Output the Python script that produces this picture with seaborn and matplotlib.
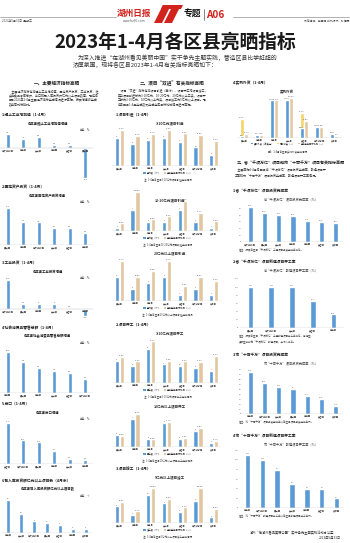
import matplotlib
matplotlib.use('Agg')
import matplotlib.pyplot as plt
import seaborn as sns
import pandas as pd
from matplotlib.patches import Patch, Polygon

sns.set_style('white')
plt.rcParams['font.family'] = ['Noto Sans CJK SC', 'DejaVu Sans']
plt.rcParams['axes.unicode_minus'] = False

BLUE = '#5b9bd5'
TAN = '#e2c6a0'
YELLOW = '#f3d465'
RED = '#d2231c'
GREY = '#c8c8c8'
INK = '#222222'

# ---- 一、主要经济指标 ----
c1_cats = ['南太湖新区', '德清县', '长兴县', '南浔区', '安吉县', '吴兴区']
c1_vals = [7.6, 5.0, 5.8, 1.6, 1.6, -16.2]
c2_cats = ['吴兴区', '南浔区', '南太湖新区', '长兴县', '安吉县', '德清县']
c2_vals = [12.3, 7.8, 7.5, 5.8, 5.8, 3.9]
c3_cats = ['南太湖新区', '吴兴区', '南浔区', '长兴县', '安吉县', '德清县']
c3_vals = [35.4, 6.1, 6.0, 6.0, 1.4, -8.5]
c4_cats = ['南浔区', '吴兴区', '德清县', '长兴县', '安吉县', '南太湖新区']
c4_vals = [13.2, 9.9, 8.1, 7.2, 6.6, 4.4]
c5_cats = ['安吉县', '南太湖新区', '吴兴区', '德清县', '长兴县', '南浔区']
c5_vals = [31.4, 18.1, 16.5, 10.0, 3.7, 3.4]
c6_cats = ['德清县', '长兴县', '南太湖新区', '吴兴区', '安吉县', '南浔区', '度假区']
c6_vals = [17, 10, 6, 5, 4, 2, 2]

# ---- 二、项目"双进" ----
g_cats = ['吴兴区', '南浔区', '德清县', '长兴县', '安吉县', '南太湖新区', '度假区']
g1_num = [15, 12, 14, 15, 13, 10, 6]
g1_pct = [62.5, 52.2, 55.7, 62.5, 56.5, 54.0, 43.9]
g2_num = [1, 7, 3, 3, 7, 3, 1]
g2_pct = [20.0, 100.0, 30.0, 37.5, 77.8, 46.7, 25.0]
g3_num = [4, 2, 3, 4, 1, 2, 1]
g3_pct = [66.7, 40.0, 50.0, 66.7, 25.0, 40.0, 33.3]
g4_num = [13, 10, 20, 11, 10, 9, 7]
g4_pct = [52.0, 43.5, 83.3, 44.0, 43.5, 42.9, 53.8]
g5_num = [3, 7, 2, 6, 2, 4, 1]
g5_pct = [30.0, 87.5, 20.0, 66.7, 25.0, 50.0, 16.7]
g6_num = [6, 3, 10, 7, 4, 8, 2]
g6_pct = [60.0, 33.3, 100.0, 70.0, 44.4, 100.0, 40.0]

# ---- 实到外资 ----
f_cats = ['吴兴区', '南浔区', '德清县', '长兴县', '安吉县', '南太湖新区', '度假区']
f_usd = [560, 960, 11890, 11960, 3050, 3420, 1210]
f_growth = [50.3, 0, 0, 0, 65.8, 0, 0]
f_pct = [10.7, 8.1, 98.2, 104.6, 45.0, 29.0, 5.3]

# ---- 三、省"千项万亿"、市"十百千万" ----
h1_cats = ['南太湖新区', '吴兴区', '长兴县', '德清县', '南浔区', '安吉县', '度假区']
h1_vals = [52.5, 43.9, 40.8, 39.6, 32.1, 30.5, 28.7]
h2_cats = ['吴兴区', '南太湖新区', '长兴县', '安吉县', '德清县']
h2_vals = [100.0, 100.0, 100.0, 66.7, 33.3]
h3_cats = ['德清县', '南太湖新区', '长兴县', '吴兴区', '南浔区', '安吉县', '度假区']
h3_vals = [85.6, 63.2, 55.1, 51.0, 36.7, 30.6, 16.3]
h4_cats = ['德清县', '南太湖新区', '吴兴区', '长兴县', '南浔区', '安吉县', '度假区']
h4_vals = [110, 100, 80, 50, 40, 40, 20]

W, H = 350, 543
fig = plt.figure(figsize=(W / 100, H / 100), dpi=100)
fig.patch.set_facecolor('white')


def box(x0, x1, top, bot):
    return [x0 / W, 1 - bot / H, (x1 - x0) / W, (bot - top) / H]


def txt(x, y, s, size, ha='left', **kw):
    kw.setdefault('color', INK)
    fig.text(x / W, 1 - y / H, s, fontsize=size, ha=ha, va='center', **kw)


def bars(ax):
    return [c for c in ax.containers if len(c) and all(p is not None for p in c)]


def clean(ax):
    sns.despine(ax=ax, left=True, bottom=True, right=True, top=True)
    ax.patch.set_visible(False)
    ax.set_xlabel('')
    ax.set_ylabel('')
    ax.set_xticks([])
    ax.set_yticks([])


def cat_labels(ax, cats, size=1.7):
    for i, c in enumerate(cats):
        ax.annotate(c, (i, 0), xytext=(0, -0.8), textcoords='offset points',
                    ha='center', va='top', fontsize=size, color='#444')


def single(x0, x1, base, top, per, cats, vals, bot=None, width=0.28,
           yticks=None, fmt='{:g}'):
    bot = base if bot is None else bot
    ax = fig.add_axes(box(x0, x1, top, bot))
    sns.barplot(x=cats, y=vals, ax=ax, color=BLUE, saturation=1, width=width, errorbar=None)
    clean(ax)
    ax.set_xlim(-0.5, len(cats) - 0.5)
    ax.set_ylim(-(bot - base) / per, (base - top) / per)
    ax.axhline(0, color=GREY, lw=0.35)
    cat_labels(ax, cats)
    ax.bar_label(bars(ax)[0], labels=[fmt.format(v) for v in vals],
                 fontsize=1.6, padding=0.6, color='#444')
    if yticks is not None:
        ax.set_yticks(yticks)
        ax.tick_params(axis='y', labelsize=1.6, length=0, pad=1.2, labelcolor='#555')
    return ax


def legend(x, y, names, colors, size=1.7, ncol=None):
    handles = [Patch(facecolor=c, edgecolor='none') for c in colors]
    fig.legend(handles, names, loc='center', bbox_to_anchor=(x / W, 1 - y / H),
               ncol=ncol or len(names), fontsize=size, frameon=False,
               handlelength=0.9, handleheight=0.7, handletextpad=0.4,
               columnspacing=1.2, borderpad=0, borderaxespad=0)


def grouped(base, top, per_a, per_b, cats, a, b, names, x0=111.5, x1=221.5):
    ax = fig.add_axes(box(x0, x1, top, base))
    pal = {names[0]: BLUE, names[1]: TAN}
    df_a = pd.DataFrame({'区县': cats, 'v': a, 's': names[0]})
    df_b = pd.DataFrame({'区县': cats, 'v': b, 's': names[1]})
    sns.barplot(df_a, x='区县', y='v', hue='s', hue_order=names, palette=pal, errorbar=None,
                dodge=True, ax=ax, width=0.62, gap=0.12, saturation=1, legend=False)
    ax2 = ax.twinx()
    sns.barplot(df_b, x='区县', y='v', hue='s', hue_order=names, palette=pal, errorbar=None,
                dodge=True, ax=ax2, width=0.62, gap=0.12, saturation=1, legend=False)
    for axx, per in ((ax, per_a), (ax2, per_b)):
        clean(axx)
        axx.set_xlim(-0.5, len(cats) - 0.5)
        axx.set_ylim(0, (base - top) / per)
    ax.axhline(0, color=GREY, lw=0.35)
    cat_labels(ax, cats, 1.6)
    ax.bar_label(bars(ax)[0], labels=[f'{v:g}' for v in a],
                 fontsize=1.5, padding=0.5, color='#444')
    ax2.bar_label(bars(ax2)[0], labels=[f'{v:.1f}%' for v in b],
                  fontsize=1.5, padding=0.5, color='#444')
    return ax, ax2


# ---------------- header ----------------
fig.add_artist(plt.Line2D([0, 116 / W], [1 - 17 / H] * 2, color='#777', lw=0.4))
fig.add_artist(plt.Line2D([233 / W, 1], [1 - 17 / H] * 2, color='#777', lw=0.4))
txt(2, 20.5, '2023年5月31日  星期三', 2.1, color='#444')
txt(349, 20.5, '责任编辑：崔亚楠  版式设计：孙海丽', 2.0, ha='right', color='#444')
txt(134, 13, '湖州日报', 6.2, ha='center', color=RED, fontweight='bold')
txt(134, 21.5, 'www.hz66.com', 2.3, ha='center', color='#555')
for pts in ([(154, 23), (162, 23), (171, 5), (163, 5)],
            [(164, 23), (172, 23), (181, 5), (173, 5)],
            [(163, 5), (183, 5), (181, 9), (161, 9)]):
    fig.add_artist(Polygon([(px / W, 1 - py / H) for px, py in pts],
                           closed=True, transform=fig.transFigure,
                           facecolor=RED, edgecolor='none'))
txt(184, 14.5, '专题', 6.3, color='#111', fontweight='bold')
fig.add_artist(plt.Line2D([203.5 / W] * 2, [1 - 9 / H, 1 - 20 / H], color='#555', lw=0.5))
txt(206, 14.5, 'A06', 7.2, color=RED, fontweight='bold')

# ---------------- title & intro ----------------
txt(175, 42, '2023年1-4月各区县亮晒指标', 13.5, ha='center', fontweight='bold', color='#1a1a1a')
txt(78, 58, '为深入推进“在湖州看见美丽中国”实干争先主题实践，营造区县比学赶超的', 4.2, color='#333')
txt(73, 64.5, '浓厚氛围，现将各区县2023年1-4月有关指标亮晒如下：', 4.2, color='#333')

# ---------------- column 1 ----------------
txt(57, 83, '一、主要经济指标亮晒', 3.3, ha='center', fontweight='bold')
for i, line in enumerate(['    主要经济指标包括规上工业增加值、固定资产投资、工业投资、社',
                          '会消费品零售总额、出口和已入库投资额亿元以上项目数等，现将各',
                          '区县2023年1-4月主要经济指标完成情况进行亮晒，按照增速或完成',
                          '数由高到低排列。']):
    txt(9, 91 + 4.3 * i, line, 2.15, color='#333')

col1 = [
    ('1.规上工业增加值（1-4月）', 115, '各区县规上工业增加值增速', '单位：%',
     dict(base=148, top=128, per=14 / 7.6, bot=182, cats=c1_cats, vals=c1_vals)),
    ('2.固定资产投资（1-4月）', 187, '各区县固定资产投资增速', '单位：%',
     dict(base=245, top=202, per=37 / 12.3, cats=c2_cats, vals=c2_vals)),
    ('3.工业投资（1-4月）', 263, '各区县工业投资增速', '单位：%',
     dict(base=309, top=276, per=29 / 35.4, bot=319, cats=c3_cats, vals=c3_vals)),
    ('4.社会消费品零售总额（1-4月）', 328, '各区县社会消费品零售总额增速', '单位：%',
     dict(base=393, top=347, per=41 / 13.2, cats=c4_cats, vals=c4_vals)),
    ('5.出口（1-4月）', 404, '各区县出口增速', '单位：%',
     dict(base=464, top=419, per=41 / 31.4, cats=c5_cats, vals=c5_vals)),
    ('6.已入库投资额亿元以上项目数（4月末）', 481, '各区县已入库投资额亿元以上项目数', '单位：个',
     dict(base=533, top=495, per=33 / 17, cats=c6_cats, vals=c6_vals)),
]
for head, hy, title, unit, kw in col1:
    txt(2, hy, head, 2.7, fontweight='bold')
    txt(48, hy + 8.5, title, 2.4, ha='center', fontweight='bold')
    txt(80, hy + 15, unit, 1.9, color='#444')
    n = len(kw['cats'])
    x0, x1 = (0, 93) if n == 6 else (2, 92)
    single(x0, x1, width=0.28 if n == 6 else 0.32, **kw)

# ---------------- column 2 ----------------
txt(172, 83, '二、项目“双进”有关指标亮晒', 3.3, ha='center', fontweight='bold')
for i, line in enumerate(['    项目“双进”指标包括项目引进（签约）、项目开工和项目竣工，',
                          '其中项目引进分为3-10亿元、10-20亿元、20亿元以上三类，项目开',
                          '工分为3-10亿元、10亿元以上两类，项目竣工为5亿元以上项目。现',
                          '将各区县1-4月完成数及完成全年目标比例情况进行亮晒。']):
    txt(118, 91 + 4.3 * i, line, 2.15, color='#333')

txt(116, 115, '1.项目引进（1-4月）', 2.7, fontweight='bold')
txt(116, 325, '2.项目开工（1-4月）', 2.7, fontweight='bold')
txt(116, 470, '3.项目竣工（1-4月）', 2.7, fontweight='bold')

col2 = [
    (123, '3-10亿元项目引进', ['签约数（个）', '完成全年目标比例（%）'],
     '注：1-4月各区县3-10亿元项目引进完成情况', 166, 127, 28 / 15, 36 / 62.5, g1_num, g1_pct),
    (200, '10-20亿元项目引进', ['签约数（个）', '完成全年目标比例（%）'],
     '注：1-4月各区县10-20亿元项目引进完成情况', 231, 186, 3.0, 0.39, g2_num, g2_pct),
    (253, '20亿元以上项目引进', ['签约数（个）', '完成全年目标比例（%）'],
     '注：1-4月各区县20亿元以上项目引进完成情况', 301, 256, 6.0, 0.6, g3_num, g3_pct),
    (333, '3-10亿元项目开工', ['开工数（个）', '完成全年目标比例（%）'],
     '注：1-4月各区县3-10亿元项目开工完成情况', 383, 336, 1.7, 0.5, g4_num, g4_pct),
    (406, '10亿元以上项目开工', ['开工数（个）', '完成全年目标比例（%）'],
     '注：1-4月各区县10亿元以上项目开工完成情况', 447, 410, 4.0, 0.38, g5_num, g5_pct),
    (478, '5亿元以上项目竣工', ['竣工数（个）', '完成全年目标比例（%）'],
     '注：1-4月各区县5亿元以上项目竣工完成情况', 523, 484, 2.8, 0.35, g6_num, g6_pct),
]
for ty, title, names, note, base, top, pa, pb, a, b in col2:
    txt(170, ty, title, 2.5, ha='center', fontweight='bold', color='#333')
    grouped(base, top, pa, pb, g_cats, a, b, names)
    legend(168, base + 7, names, [BLUE, TAN])
    txt(168, base + 13.5, note, 1.8, ha='center', color='#444')

# ---------------- column 3 ----------------
txt(233, 83, '4.实到外资（1-4月）', 2.7, fontweight='bold')
txt(287, 92, '实到外资', 2.5, ha='center', fontweight='bold', color='#333')
f_names = ['实到外资（万美元）', '同比增长（%）', '完成全年目标比例（%）']
base, top = 138, 93
ax = fig.add_axes(box(236.5, 341.5, top, base))
pal = {f_names[0]: BLUE, f_names[1]: YELLOW, f_names[2]: TAN}
df_p = pd.concat([pd.DataFrame({'区县': f_cats, 'v': f_growth, 's': f_names[1]}),
                  pd.DataFrame({'区县': f_cats, 'v': f_pct, 's': f_names[2]})])
sns.barplot(df_p, x='区县', y='v', hue='s', hue_order=f_names[1:], palette=pal, errorbar=None,
            dodge=True, ax=ax, width=0.62, gap=0.1, saturation=1, legend=False)
ax2 = ax.twinx()
df_u = pd.DataFrame({'区县': f_cats, 'v': f_usd, 's': f_names[0]})
sns.barplot(df_u, x='区县', y='v', hue='s', hue_order=[f_names[0], f_names[2]], palette=pal,
            dodge=True, errorbar=None, ax=ax2, width=0.62, gap=0.1, saturation=1, legend=False)
for axx, per in ((ax, 40 / 104.6), (ax2, 38 / 11960)):
    clean(axx)
    axx.set_xlim(-0.5, len(f_cats) - 0.5)
    axx.set_ylim(0, (base - top) / per)
ax.axhline(0, color=GREY, lw=0.35)
cat_labels(ax, f_cats, 1.6)
fb = bars(ax)
ax.bar_label(fb[0], labels=[f'{v:.1f}%' if v else '' for v in f_growth],
             fontsize=1.5, padding=0.5, color='#444')
ax.bar_label(fb[1], labels=[f'{v:.1f}%' for v in f_pct],
             fontsize=1.5, padding=0.5, color='#444')
ax2.bar_label(bars(ax2)[0], labels=[f'{v:g}' for v in f_usd],
              fontsize=1.5, padding=0.5, color='#444')
legend(288, 143.5, f_names, [BLUE, YELLOW, TAN], size=1.6)
txt(288, 151, '图7：1-4月各区县实到外资完成情况', 1.8, ha='center', color='#444')

txt(291, 163, '三、省“千项万亿”项目和市“十百千万”项目有关指标亮晒', 2.9, ha='center', fontweight='bold')
txt(235, 170, '    主要亮晒1-4月各区县省“千项万亿”项目投资完成率、新建项目开', 2.15, color='#333')
txt(235, 175.5, '工率和市“十百千万”项目投资完成率、新建项目开工率情况。', 2.15, color='#333')

col3 = [
    ('1.省“千项万亿”项目投资完成率', 191, '省“千项万亿”项目投资完成率（%）',
     ['备注：按照各区县“千项万亿”工程项目投资完成率排名。'],
     dict(x0=243, x1=343, base=242, top=203, per=35 / 52.5, cats=h1_cats, vals=h1_vals,
          yticks=range(0, 51, 10), width=0.36)),
    ('2.省“千项万亿”项目新建项目开工率', 262, '省“千项万亿”新建项目开工率（%）',
     ['备注：按照各区县“千项万亿”工程新建项目开工率排名，南浔区、',
      '度假区当前无“千项万亿”新建项目，未纳入排名。'],
     dict(x0=240, x1=344, base=328, top=277, per=41 / 100, cats=h2_cats, vals=h2_vals,
          yticks=range(0, 121, 20), width=0.26)),
    ('3.市“十百千万”项目投资完成率', 355, '市“十百千万”项目投资完成率（%）',
     ['备注：市“十百千万”项目投资完成率以各区县项目投资完成率计。'],
     dict(x0=243, x1=343, base=414, top=368, per=42 / 85.6, cats=h3_cats, vals=h3_vals,
          yticks=range(0, 91, 10), width=0.36)),
    ('4.市“十百千万”项目新建项目开工率', 436, '市“十百千万”新建项目开工率（%）',
     ['备注：市“十百千万”新建项目开工率以各区县新建项目开工率计。'],
     dict(x0=240, x1=344, base=508, top=449, per=48 / 100, cats=h4_cats, vals=h4_vals,
          yticks=range(0, 121, 20), width=0.36)),
]
for head, hy, title, notes, kw in col3:
    txt(233, hy, head, 2.7, fontweight='bold')
    txt(291, hy + 9.5, title, 2.3, ha='center', color='#444')
    single(**kw)
    for j, note in enumerate(notes):
        txt(239, kw['base'] + 8.5 + 5.5 * j, note, 1.8, color='#444')

txt(292, 533, '湖州“在湖州看见美丽中国”实干争先主题实践活动办公室', 2.3, ha='center', color='#333')
txt(341, 538, '2023年5月31日', 2.3, ha='right', color='#333')

fig.savefig('out.png', dpi=100, facecolor='white')
